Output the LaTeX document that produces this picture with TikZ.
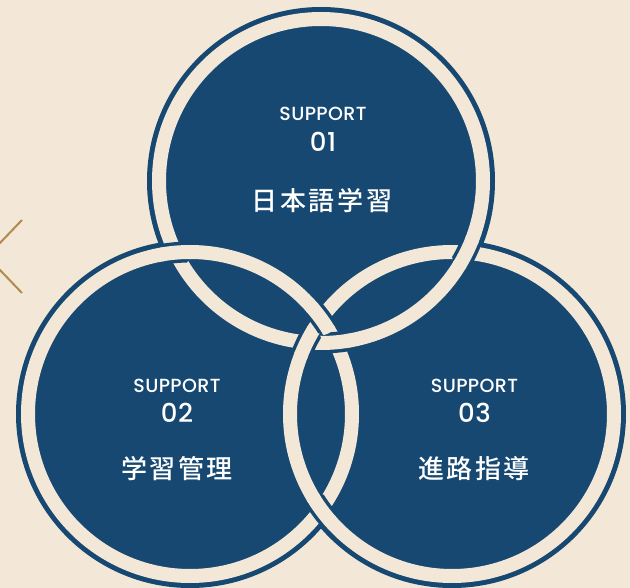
\documentclass[tikz,border=0pt]{standalone}
\usepackage{fontspec}
\newfontfamily\latinfont{Poppins Medium}[LetterSpace=2]
\newfontfamily\jpfont{Noto Sans CJK JP Medium}[LetterSpace=10]
\definecolor{navy}{HTML}{164871}
\definecolor{cream}{HTML}{F3E8D8}
\definecolor{gold}{HTML}{B08A4E}

\begin{document}
\begin{tikzpicture}[x=1pt,y=-1pt]
    \tikzstyle{every node}+=[inner sep=0pt]
    \tikzstyle{ring}=[cream, line width=14pt]
    \tikzstyle{gap}=[navy, line width=21pt]
    \tikzstyle{lbl}=[text=white, anchor=base]
    \tikzstyle{sup}=[lbl, font=\latinfont\fontsize{19}{19}\selectfont]
    \tikzstyle{num}=[lbl, font=\latinfont\fontsize{26}{26}\selectfont]
    \tikzstyle{jp}=[lbl, font=\jpfont\fontsize{26}{26}\selectfont]
    \useasboundingbox (0,0) rectangle (630,588);
    \fill [cream] (0,0) rectangle (630,588);
    \clip (0,0) rectangle (630,588);
    \draw [gold, line width=2pt] (22,220) -- (-13,256.5) -- (22,293);
    \coordinate (T) at (321,181);
    \coordinate (L) at (190,414);
    \coordinate (R) at (452,414);
    \foreach \c in {T,L,R} \fill [navy] (\c) circle (174);
    \foreach \c in {T,L,R} \draw [ring] (\c) circle (162);
    \foreach \x/\y/\ov in {175.7/252.6/L, 466.3/252.6/T, 321/509.3/R,
                           335.3/342.4/T, 306.7/342.4/R, 321/318.7/L} {
        \begin{scope}
            \clip (\x,\y) circle (15);
            \draw [gap] (\ov) circle (162);
        \end{scope}
        \begin{scope}
            \clip (\x,\y) circle (16.5);
            \draw [ring] (\ov) circle (162);
        \end{scope}
    }
    \node [sup] (sup1) at (323,120.5) {SUPPORT};
    \node [num] (num1) at (323,152) {01};
    \node [jp] (txt1) at (322,211) {日本語学習};
    \node [sup] (sup2) at (177,392) {SUPPORT};
    \node [num] (num2) at (177,423) {02};
    \node [jp] (txt2) at (177,478) {学習管理};
    \node [sup] (sup3) at (474.5,392) {SUPPORT};
    \node [num] (num3) at (474.5,423) {03};
    \node [jp] (txt3) at (474,478) {進路指導};
\end{tikzpicture}
\end{document}
